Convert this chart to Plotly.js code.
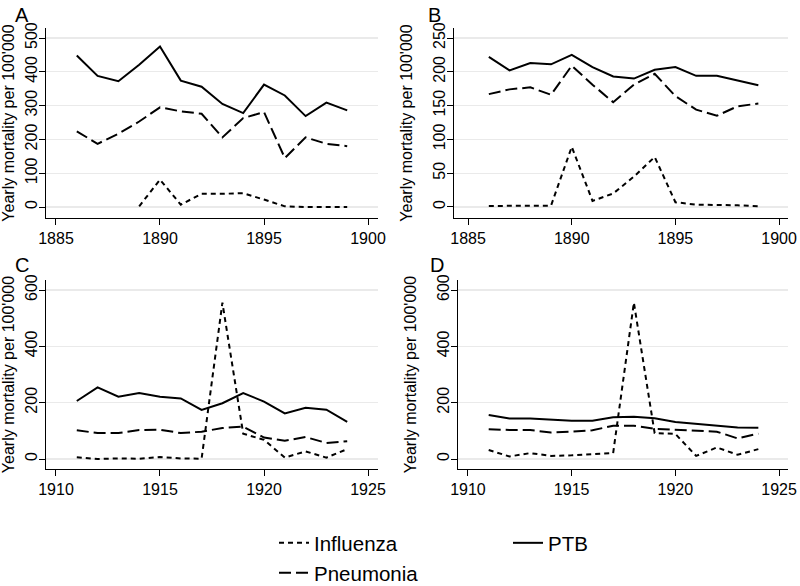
<!DOCTYPE html>
<html>
<head>
<meta charset="utf-8">
<script src="https://cdn.plot.ly/plotly-3.0.1.min.js"></script>
<style>html,body{margin:0;padding:0;background:#fff;}#chart{width:800px;height:586px;}</style>
</head>
<body>
<div id="chart"></div>
<script>
// ---- data ----
const yearsA = [1886,1887,1888,1889,1890,1891,1892,1893,1894,1895,1896,1897,1898,1899];
const ptbA = [448,388,372,421,475,374,356,305,278,362,330,269,309,286];
const pneuA = [224,187,217,253,295,283,276,206,263,281,145,206,187,180];
const yearsAInf = [1889,1890,1891,1892,1893,1894,1895,1896,1897,1898,1899];
const infA = [2,81,7,39,39,41,22,2,0,1,0];

const yearsB = [1886,1887,1888,1889,1890,1891,1892,1893,1894,1895,1896,1897,1898,1899];
const ptbB = [222,202,213,211,225,207,193,190,203,207,194,194,187,180];
const pneuB = [167,174,177,166,209,181,155,181,197,164,144,135,149,153];
const infB = [1.5,2,2,2,89,9,20,45,74,7,3.5,3.5,2.5,1];

const yearsC = [1911,1912,1913,1914,1915,1916,1917,1918,1919,1920,1921,1922,1923,1924];
const ptbC = [206,254,221,234,221,215,174,198,234,204,162,182,175,132];
const pneuC = [102,92,92,103,104,92,97,110,115,76,65,78,57,63];
const infC = [6,0,2,1,7,2,1,555,90,68,5,27,5,35];

const yearsD = [1911,1912,1913,1914,1915,1916,1917,1918,1919,1920,1921,1922,1923,1924];
const ptbD = [156,144,144,140,136,136,148,150,145,131,124,118,112,111];
const pneuD = [106,103,103,94,97,102,118,118,107,104,99,97,73,90];
const infD = [32,9,21,11,13,18,21,555,92,89,11,41,15,35];

const panelLabels = ['A','B','C','D'];
const yTitle = "Yearly mortality per 100'000";

// ---- styles ----
const FONT = 'Liberation Sans, Arial, sans-serif';
const dashes = {Influenza: '5px,4px', Pneumonia: '12px,5px', PTB: 'solid'};
const legendOf = {Influenza: 'legend', Pneumonia: 'legend2', PTB: 'legend3'};

function tr(name, x, y, ax, show) {
  return {
    type: 'scatter', mode: 'lines', name: name, x: x, y: y,
    xaxis: 'x' + ax, yaxis: 'y' + ax,
    line: {color: '#000', width: 2, dash: dashes[name]},
    showlegend: !!show, legend: legendOf[name], hoverinfo: 'skip'
  };
}

const traces = [
  tr('Influenza', yearsAInf, infA, '', true),
  tr('PTB', yearsA, ptbA, '', true),
  tr('Pneumonia', yearsA, pneuA, '', true),
  tr('Influenza', yearsB, infB, '2'),
  tr('PTB', yearsB, ptbB, '2'),
  tr('Pneumonia', yearsB, pneuB, '2'),
  tr('Influenza', yearsC, infC, '3'),
  tr('PTB', yearsC, ptbC, '3'),
  tr('Pneumonia', yearsC, pneuC, '3'),
  tr('Influenza', yearsD, infD, '4'),
  tr('PTB', yearsD, ptbD, '4'),
  tr('Pneumonia', yearsD, pneuD, '4')
];

function xax(domain, range, dtick, anchor) {
  return {
    domain: domain, range: range, anchor: anchor, dtick: dtick, tick0: 1885,
    showgrid: false, zeroline: false, showline: true, linecolor: '#000', linewidth: 1,
    ticks: 'outside', ticklen: 6, tickcolor: '#000', tickwidth: 1,
    tickfont: {family: FONT, size: 16, color: '#000'}, automargin: false, fixedrange: true
  };
}
function yax(domain, range, dtick, anchor) {
  return {
    domain: domain, range: range, anchor: anchor, dtick: dtick, tick0: 0,
    showgrid: true, gridcolor: '#eaeaea', gridwidth: 1.3, zeroline: false,
    showline: true, linecolor: '#000', linewidth: 1,
    ticks: 'outside', ticklen: 6, tickcolor: '#000', tickwidth: 1, tickangle: -90,
    ticklabelstandoff: -4,
    tickfont: {family: FONT, size: 16, color: '#000'}, automargin: false, fixedrange: true,
    title: {text: yTitle, font: {family: FONT, size: 16, color: '#000'}}
  };
}

const W = 800, H = 586;
const px = v => v / W, py = v => 1 - v / H;

function leg(x, y) {
  return {
    orientation: 'v', x: px(x), y: py(y), xanchor: 'left', yanchor: 'middle',
    font: {family: FONT, size: 20.5, color: '#000'}, bgcolor: 'rgba(0,0,0,0)', borderwidth: 0
  };
}

const layout = {
  width: W, height: H,
  margin: {l: 0, r: 0, t: 0, b: 0, autoexpand: false},
  paper_bgcolor: '#fff', plot_bgcolor: '#fff',
  font: {family: FONT, color: '#000'},
  xaxis: xax([px(46), px(378)], [1884.52, 1900.48], 5, 'y'),
  yaxis: yax([py(218), py(28)], [-32.5, 529.6], 100, 'x'),
  xaxis2: xax([px(454), px(788)], [1884.32, 1900.43], 5, 'y2'),
  yaxis2: yax([py(218), py(28)], [-16.3, 264.8], 50, 'x2'),
  xaxis3: xax([px(46), px(378)], [1909.52, 1925.48], 5, 'y3'),
  yaxis3: yax([py(469), py(280)], [-35.5, 635.5], 200, 'x3'),
  xaxis4: xax([px(458), px(788)], [1909.52, 1925.43], 5, 'y4'),
  yaxis4: yax([py(469), py(280)], [-35.5, 635.5], 200, 'x4'),
  legend: leg(274, 543),
  legend2: leg(274, 573),
  legend3: leg(508, 543),
  annotations: [
    {text: panelLabels[0], x: px(13), y: py(2)},
    {text: panelLabels[1], x: px(426), y: py(2)},
    {text: panelLabels[2], x: px(13), y: py(252)},
    {text: panelLabels[3], x: px(428), y: py(252)}
  ].map(a => Object.assign(a, {xref: 'paper', yref: 'paper', xanchor: 'left', yanchor: 'top',
    showarrow: false, font: {family: FONT, size: 20, color: '#000'}}))
};

Plotly.newPlot('chart', traces, layout, {displayModeBar: false, staticPlot: true});
</script>
</body>
</html>
